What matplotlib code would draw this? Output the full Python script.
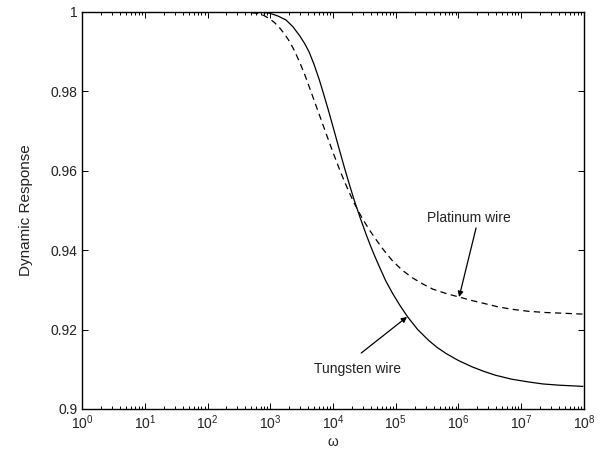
import matplotlib
matplotlib.use("Agg")
import matplotlib.pyplot as plt
import numpy as np

plt.rcParams['font.family'] = ['Liberation Sans', 'DejaVu Sans']
plt.rcParams['mathtext.default'] = 'regular'

# log10(omega) and dynamic response
tungsten_logw = [0, 1, 2, 2.5, 2.75, 2.9, 2.99, 3.12, 3.25, 3.36, 3.47, 3.55, 3.62, 3.70,
                 3.78, 3.84, 3.92, 4.0, 4.10, 4.18, 4.26, 4.34, 4.43, 4.53, 4.60, 4.66,
                 4.74, 4.84, 4.95, 5.07, 5.19, 5.35, 5.53, 5.66, 5.80, 6.0, 6.22, 6.40,
                 6.59, 6.85, 7.12, 7.35, 7.60, 7.98]
tungsten_resp = [1.0, 1.0, 1.0, 0.99995, 0.9999, 0.99985, 0.9997, 0.9990, 0.9980, 0.9963,
                 0.9940, 0.9920, 0.9899, 0.9867, 0.9830, 0.9799, 0.9756, 0.9711, 0.9654,
                 0.9609, 0.9566, 0.9525, 0.9483, 0.9439, 0.9410, 0.9387, 0.9358, 0.9323,
                 0.9291, 0.9260, 0.9232, 0.9200, 0.9172, 0.9155, 0.9140, 0.9122, 0.9106,
                 0.9095, 0.9085, 0.9075, 0.9068, 0.9063, 0.9060, 0.9057]

platinum_logw = [0, 1, 2, 2.4, 2.6, 2.78, 2.90, 2.99, 3.07, 3.15, 3.23, 3.31, 3.39, 3.47,
                 3.55, 3.62, 3.70, 3.78, 3.86, 3.94, 4.02, 4.10, 4.18, 4.26, 4.34, 4.46,
                 4.58, 4.68, 4.79, 4.87, 4.95, 5.10, 5.27, 5.43, 5.59, 5.80, 6.01, 6.22,
                 6.43, 6.64, 6.86, 7.12, 7.39, 7.70, 7.98]
platinum_resp = [1.0, 1.0, 1.0, 0.99998, 0.99995, 0.9997, 0.9991, 0.9983, 0.9973, 0.9960,
                 0.9944, 0.9925, 0.9901, 0.9873, 0.9842, 0.9812, 0.9777, 0.9742, 0.9707,
                 0.9672, 0.9638, 0.9605, 0.9574, 0.9545, 0.9518, 0.9482, 0.9451, 0.9428,
                 0.9404, 0.9388, 0.9373, 0.9350, 0.9330, 0.9315, 0.9302, 0.9291, 0.9282,
                 0.9273, 0.9265, 0.9257, 0.9251, 0.9246, 0.9243, 0.9241, 0.9239]

yticks = [0.9, 0.92, 0.94, 0.96, 0.98, 1.0]
ytick_labels = ['0.9', '0.92', '0.94', '0.96', '0.98', '1']

fig = plt.figure(figsize=(6.0, 4.49), dpi=100)
ax = fig.add_axes([0.1367, 0.0891, 0.8366, 0.8842])

ax.plot(10.0 ** np.array(tungsten_logw), tungsten_resp, color='black', lw=0.9)
ax.plot(10.0 ** np.array(platinum_logw), platinum_resp, color='black', lw=0.9,
        dashes=(5, 3.5))

ax.set_xscale('log')
ax.set_xlim(1, 1e8)
ax.set_ylim(0.9, 1.0)
ax.set_yticks(yticks)
ax.set_yticklabels(ytick_labels)
ax.set_xticks([10.0 ** k for k in range(9)])

txtc = '#222222'
ax.tick_params(which='both', direction='in', top=True, right=True,
               labelsize=10, labelcolor=txtc, width=0.7)
ax.tick_params(which='major', length=4)
ax.tick_params(which='minor', length=2)
ax.minorticks_on()
ax.yaxis.set_minor_locator(matplotlib.ticker.NullLocator())
for s in ax.spines.values():
    s.set_linewidth(1.0)

ax.set_xlabel('ω', fontsize=10, color=txtc, labelpad=2)
ax.set_ylabel('Dynamic Response', fontsize=11, color=txtc, labelpad=12)

arrow = dict(arrowstyle='-|>', color='black', lw=0.9, mutation_scale=8,
             shrinkA=0, shrinkB=0)
ax.text(10 ** 6.17, 0.9481, 'Platinum wire', fontsize=10, color=txtc,
        ha='center', va='center')
ax.annotate('', xy=(10 ** 6.01, 0.9282), xytext=(10 ** 6.28, 0.9456),
            arrowprops=arrow)
ax.text(10 ** 4.39, 0.9101, 'Tungsten wire', fontsize=10, color=txtc,
        ha='center', va='center')
ax.annotate('', xy=(10 ** 5.18, 0.9232), xytext=(10 ** 4.45, 0.9141),
            arrowprops=arrow)

fig.savefig('out.png', dpi=100)
